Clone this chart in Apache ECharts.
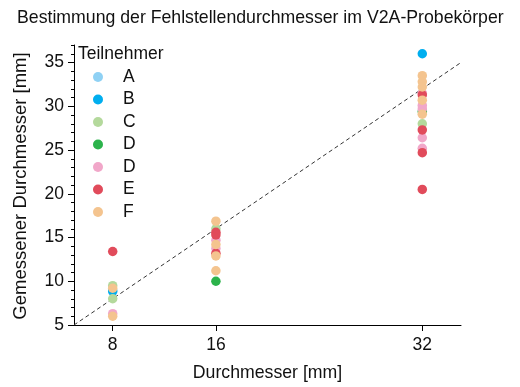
<!DOCTYPE html>
<html>
<head>
<meta charset="utf-8">
<script src="https://cdn.jsdelivr.net/npm/echarts@6/dist/echarts.min.js"></script>
<style>
  html, body { margin: 0; padding: 0; background: #fff; }
  #chart { width: 520px; height: 387px; }
</style>
</head>
<body>
<div id="chart"></div>
<script>
// Teilnehmer (zweimal D im Original)
var names = ['A', 'B', 'C', 'D', 'D', 'E', 'F'];
var colors = ['#8fd1f4', '#00aeef', '#b4d99c', '#2cb34b', '#f1a7c9', '#e14b5b', '#f4c48f'];

// [Durchmesser, gemessen]
var dataA = [[8, 8.8]];
var dataB = [[8, 8.9], [32, 36.0]];
var dataC = [[8, 9.5], [8, 8.0], [16, 16.0], [32, 28.0]];
var dataD1 = [[16, 10.0], [32, 29.4]];
var dataD2 = [[8, 6.3], [16, 14.7], [16, 13.75], [32, 31.5], [32, 30.1], [32, 29.7], [32, 26.4], [32, 25.2]];
var dataE = [[8, 13.4], [16, 15.6], [16, 15.3], [16, 13.2], [32, 31.3], [32, 27.3], [32, 24.7], [32, 20.5]];
var dataF = [[8, 9.2], [8, 6.0], [16, 16.87], [16, 14.2], [16, 12.9], [16, 11.2],
             [32, 33.5], [32, 32.8], [32, 32.2], [32, 30.7], [32, 29.1]];
var seriesData = [dataA, dataB, dataC, dataD1, dataD2, dataE, dataF];

// Winkelhalbierende
var diagonal = [[5, 5], [35, 35]];

var xTicks = [8, 16, 32];
var yLabels = [5, 10, 15, 20, 25, 30, 35];
var yMinor = [];
for (var v = 5; v <= 37; v++) yMinor.push(v);

var font = 'Liberation Sans, Arial, sans-serif';
var chart = echarts.init(document.getElementById('chart'));

var series = [];
for (var i = 0; i < names.length; i++) {
  series.push({
    name: names[i] + i,       // eindeutige Namen fuer die Legende
    type: 'scatter',
    symbolSize: 9.5,
    itemStyle: { color: colors[i], opacity: 1 },
    data: seriesData[i]
  });
}
series.push({
  type: 'line',
  data: diagonal,
  symbol: 'none',
  silent: true,
  z: 1,
  lineStyle: { color: '#333', width: 1, type: [4, 3] }
});

chart.setOption({
  animation: false,
  textStyle: { fontFamily: font },
  title: {
    text: 'Bestimmung der Fehlstellendurchmesser im V2A-Probekörper',
    left: 12, top: 4,
    textStyle: { fontSize: 17.7, fontWeight: 'normal', color: '#111', fontFamily: font }
  },
  legend: {
    orient: 'vertical',
    left: 88, top: 63,
    itemWidth: 10, itemHeight: 10, itemGap: 4.5,
    icon: 'circle',
    selectedMode: false,
    data: series.slice(0, names.length).map(function (s) { return s.name; }),
    formatter: function (n) { return n.charAt(0); },
    textStyle: { fontSize: 17.5, color: '#111', lineHeight: 16, padding: [0, 0, 0, 15], fontFamily: font }
  },
  graphic: [{
    type: 'text',
    left: 78, top: 45,
    style: { text: 'Teilnehmer', fontSize: 17.5, fill: '#111', fontFamily: font }
  }, {
    type: 'text',
    x: 21, y: 186,
    rotation: Math.PI / 2,
    style: {
      text: 'Gemessener Durchmesser [mm]', fontSize: 18.5, fill: '#111', fontFamily: font,
      align: 'center', verticalAlign: 'middle'
    }
  }],
  grid: { left: 74, right: 59, top: 45, bottom: 60 },
  xAxis: {
    type: 'value', min: 5, max: 35,
    name: 'Durchmesser [mm]', nameLocation: 'middle', nameGap: 39,
    nameTextStyle: { fontSize: 17.7, color: '#111', verticalAlign: 'top' },
    axisLine: { lineStyle: { color: '#000', width: 1 } },
    axisTick: { show: true, customValues: xTicks, length: 6, lineStyle: { color: '#000' } },
    axisLabel: { customValues: xTicks, fontSize: 17.5, color: '#111', margin: 11 },
    splitLine: { show: false }
  },
  yAxis: [{
    type: 'value', min: 5, max: 37,
    axisLine: { show: true, lineStyle: { color: '#000', width: 1 } },
    axisTick: { show: true, customValues: yMinor, length: 3, lineStyle: { color: '#000' } },
    axisLabel: { customValues: yLabels, fontSize: 17.5, color: '#111', margin: 10 },
    splitLine: { show: false }
  }, {
    type: 'value', min: 5, max: 37, position: 'left',
    axisLine: { show: false },
    axisTick: { show: true, customValues: yLabels, length: 6, lineStyle: { color: '#000' } },
    axisLabel: { show: false },
    splitLine: { show: false }
  }],
  series: series
});
</script>
</body>
</html>
